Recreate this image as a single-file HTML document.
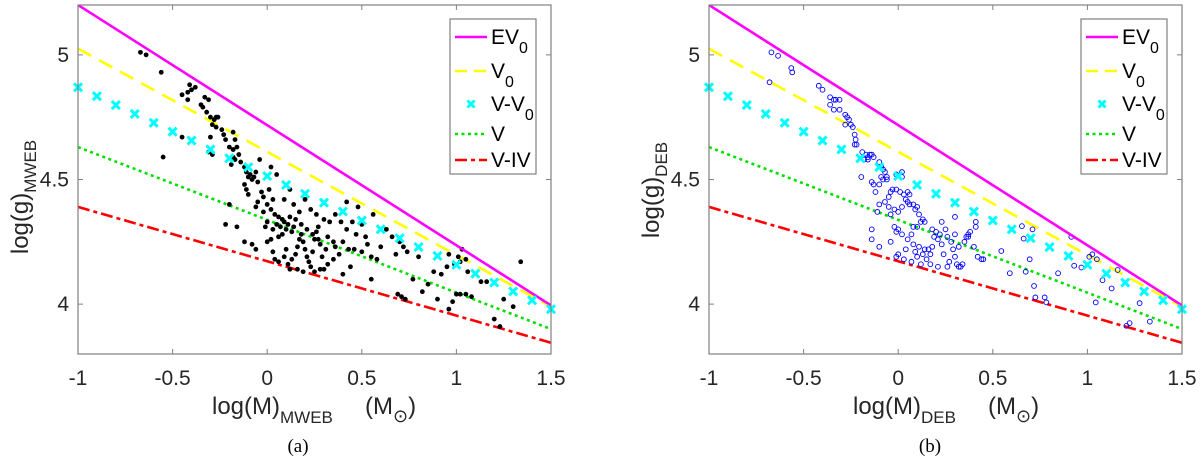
<!DOCTYPE html>
<html><head><meta charset="utf-8"><style>
html,body{margin:0;padding:0;background:#fff;}
svg{display:block;font-family:"Liberation Sans",sans-serif;}
</style></head><body>
<svg id="fig" width="1200" height="464" viewBox="0 0 1200 464"></svg>
<script>
const xTicks=[-1,-0.5,0,0.5,1,1.5];
const xTickLabels=["-1","-0.5","0","0.5","1","1.5"];
const yTicks=[4,4.5,5];
const yTickLabels=["4","4.5","5"];
const lineX=[-1,1.5];
const ev0Y=[5.2,3.995];
const v0Y=[5.025,3.99];
const vV0Y=[4.87,3.98];
const vY=[4.63,3.90];
const vivY=[4.39,3.845];
const crossX=[-1,-0.9,-0.8,-0.7,-0.6,-0.5,-0.4,-0.3,-0.2,-0.1,0,0.1,0.2,0.3,0.4,0.5,0.6,0.7,0.8,0.9,1,1.1,1.2,1.3,1.4,1.5];
const mwebX=[-0.67,-0.64,-0.56,-0.55,-0.45,-0.42,-0.41,-0.40,-0.38,-0.42,-0.35,-0.33,-0.31,-0.34,-0.32,-0.30,-0.28,-0.27,-0.26,-0.29,-0.27,-0.30,-0.24,-0.23,-0.22,-0.18,-0.17,-0.16,-0.20,-0.18,-0.15,-0.18,-0.17,-0.14,-0.19,-0.31,-0.29,-0.45,-0.20,-0.22,
-0.12,-0.11,-0.10,-0.09,-0.08,-0.07,-0.06,-0.05,-0.12,-0.11,-0.10,-0.04,0.02,0.05,-0.03,-0.02,0.01,0.03,-0.05,-0.06,0.0,0.02,-0.02,0.04,0.06,0.08,0.0,-0.01,0.03,0.05,0.07,0.09,0.10,0.11,0.12,0.13,0.14,0.08,0.06,0.02,0.00,-0.06,-0.08,-0.12,-0.16,0.03,0.04,0.06,0.09,0.10,0.11,0.12,0.13,0.15,0.16,0.17,0.18,0.19,0.20,0.21,0.22,0.23,0.24,0.25,0.26,0.27,0.28,0.29,0.30,0.31,0.32,0.33,0.14,0.17,0.20,0.23,0.26,0.30,0.12,0.09,0.15,0.18,0.21,0.24,0.27,0.16,0.19,0.25,0.28,0.32,0.35,0.36,0.38,0.40,0.42,0.45,0.47,0.50,0.52,0.36,0.39,0.43,0.46,0.50,0.53,0.55,0.58,0.60,0.63,0.66,0.68,0.70,0.72,0.74,0.56,0.48,0.42,0.69,0.71,0.73,0.77,0.80,0.55,0.40,0.35,0.44,
0.96,1.01,1.02,1.05,1.03,1.06,0.95,0.99,1.00,1.02,0.98,1.05,1.08,1.13,1.16,1.20,1.25,1.30,1.34,1.23,0.88,0.92,0.82,0.85,0.90,0.96];
const mwebY=[5.01,5.00,4.93,4.59,4.84,4.85,4.88,4.86,4.87,4.82,4.80,4.83,4.82,4.79,4.77,4.75,4.74,4.75,4.75,4.72,4.71,4.67,4.70,4.68,4.66,4.69,4.66,4.63,4.63,4.62,4.60,4.59,4.58,4.57,4.56,4.61,4.60,4.67,4.40,4.32,
4.55,4.53,4.51,4.52,4.50,4.51,4.53,4.49,4.48,4.46,4.44,4.58,4.55,4.52,4.45,4.43,4.46,4.42,4.41,4.39,4.40,4.38,4.37,4.36,4.35,4.34,4.33,4.31,4.30,4.32,4.31,4.33,4.30,4.32,4.35,4.29,4.31,4.28,4.27,4.26,4.25,4.22,4.24,4.25,4.31,4.21,4.18,4.17,4.19,4.22,4.16,4.14,4.18,4.20,4.23,4.26,4.28,4.25,4.22,4.19,4.17,4.15,4.21,4.26,4.29,4.31,4.24,4.19,4.14,4.22,4.27,4.33,4.40,4.37,4.42,4.38,4.36,4.34,4.46,4.42,4.34,4.32,4.30,4.28,4.26,4.14,4.13,4.13,4.14,4.16,4.18,4.23,4.20,4.25,4.30,4.33,4.28,4.32,4.27,4.36,4.33,4.22,4.22,4.21,4.24,4.19,4.18,4.23,4.30,4.27,4.20,4.25,4.23,4.21,4.36,4.39,4.41,4.04,4.03,4.02,4.10,4.19,4.10,4.12,4.25,4.15,
4.20,4.19,4.17,4.18,4.22,4.13,4.15,4.16,4.04,4.04,4.01,4.04,4.03,4.09,4.09,3.94,4.02,3.99,4.17,3.91,4.13,4.12,4.05,4.08,4.02,3.98];
const debX=[-0.67,-0.635,-0.565,-0.56,-0.68,-0.42,-0.40,-0.36,-0.34,-0.33,-0.31,-0.36,-0.34,-0.31,-0.28,-0.27,-0.26,-0.28,-0.25,-0.24,-0.23,-0.225,-0.22,-0.23,-0.195,-0.19,-0.17,-0.16,-0.15,-0.14,-0.16,-0.13,-0.18,-0.10,-0.09,-0.08,-0.07,-0.09,-0.06,-0.08,-0.06,-0.01,0.02,0.02,-0.14,-0.13,-0.12,-0.10,-0.04,-0.03,-0.01,0.01,0.03,0.05,0.06,-0.05,0.04,0.05,-0.10,-0.07,-0.05,-0.02,-0.11,-0.04,0.0,0.02,0.06,0.08,0.09,0.10,0.11,0.12,0.13,0.14,0.10,0.08,-0.14,-0.14,-0.10,
-0.02,-0.01,0.0,0.02,-0.04,0.0,0.04,0.05,0.07,0.08,0.09,0.10,0.11,0.13,0.14,0.15,0.16,0.17,0.18,0.19,0.20,0.21,0.18,0.22,0.25,0.26,0.28,0.29,0.30,0.31,0.32,0.33,0.34,0.30,0.36,0.37,0.38,0.37,0.35,0.32,0.40,0.41,0.41,0.42,0.44,0.45,0.30,0.23,0.26,0.21,0.17,0.12,0.07,0.03,-0.01,0.24,0.27,0.23,
0.545,0.59,0.654,0.663,0.674,0.695,0.71,0.718,0.725,0.774,0.783,0.845,0.915,0.93,0.968,1.01,1.026,1.05,1.044,1.08,1.128,1.16,1.206,1.223,1.276,1.33];
const debY=[5.01,4.996,4.947,4.93,4.89,4.876,4.86,4.83,4.82,4.82,4.82,4.80,4.78,4.78,4.76,4.75,4.74,4.72,4.72,4.71,4.68,4.66,4.64,4.64,4.51,4.61,4.60,4.59,4.60,4.60,4.58,4.59,4.58,4.57,4.55,4.54,4.53,4.51,4.51,4.50,4.50,4.52,4.51,4.53,4.49,4.48,4.45,4.48,4.45,4.46,4.46,4.45,4.44,4.45,4.44,4.43,4.42,4.41,4.40,4.41,4.39,4.38,4.37,4.36,4.37,4.39,4.40,4.40,4.38,4.39,4.36,4.33,4.34,4.33,4.31,4.31,4.30,4.26,4.23,
4.31,4.29,4.30,4.28,4.25,4.20,4.22,4.26,4.28,4.24,4.21,4.19,4.23,4.20,4.22,4.18,4.22,4.20,4.23,4.27,4.29,4.26,4.30,4.28,4.30,4.27,4.25,4.22,4.19,4.16,4.15,4.15,4.16,4.28,4.27,4.28,4.29,4.27,4.25,4.23,4.23,4.33,4.31,4.19,4.18,4.18,4.35,4.33,4.15,4.15,4.16,4.16,4.17,4.18,4.19,4.20,4.17,4.24,
4.213,4.124,4.313,4.263,4.13,4.18,4.30,4.073,4.027,4.027,4.007,4.124,4.27,4.154,4.147,4.19,4.20,4.18,4.007,4.096,4.063,4.137,3.913,3.924,4.004,3.93];

const NS="http://www.w3.org/2000/svg";
const svg=document.getElementById('fig');
function mk(tag,attrs,parent){const e=document.createElementNS(NS,tag);for(const k in attrs)e.setAttribute(k,attrs[k]);(parent||svg).appendChild(e);return e;}

function panel(o){
  const L=o.left,R=o.left+473,T=5,B=354;
  const xs=v=>L+(v+1)/2.5*(R-L);
  const ys=v=>T+(5.2-v)/1.4*(B-T);
  const g=mk('g',{});
  
  
  const clip=mk('clipPath',{id:'clip'+o.left},g);
  mk('rect',{x:L,y:T,width:R-L,height:B-T},clip);
  xTicks.forEach((t,i)=>{
    const x=xs(t);
    const tk=mk('path',{d:`M${x},${B}v-5M${x},${T}v5`,stroke:'#808080','stroke-width':1},g);
    
    
    const tl=mk('text',{x:x,y:B+31,'font-size':21,'text-anchor':'middle',fill:'#262626'},g);
    tl.textContent=xTickLabels[i];
    
    
  });
  yTicks.forEach((t,i)=>{
    const y=ys(t);
    const tk=mk('path',{d:`M${L},${y}h5M${R},${y}h-5`,stroke:'#808080','stroke-width':1},g);
    
    
    const tl=mk('text',{x:L-9,y:y+7,'font-size':21,'text-anchor':'end',fill:'#262626'},g);
    tl.textContent=yTickLabels[i];
    
    
  });
  const cg=mk('g',{'clip-path':`url(#clip${o.left})`},g);
  function line(yv,color,dash,nm){
    const l=mk('line',{x1:xs(lineX[0]),y1:ys(yv[0]),x2:xs(lineX[1]),y2:ys(yv[1]),stroke:color,'stroke-width':2.6,'stroke-dasharray':dash},cg);
    
    
  }
  line(vivY,'#ff0000','12 4 4 4','v-iv-line');
  line(vY,'#00e000','3 3.5','v-line');
  line(v0Y,'#ffff00','15 9','v0-line');
  const sx=o.sx,sy=o.sy;
  for(let i=0;i<sx.length;i++){
    let c;
    if(o.open){c=mk('circle',{cx:xs(sx[i]),cy:ys(sy[i]),r:2.4,fill:'none',stroke:'#0000ff','stroke-width':0.9},cg);}
    else{c=mk('circle',{cx:xs(sx[i]),cy:ys(sy[i]),r:2.4,fill:'#000'},cg);}
    
    
  }
  line(ev0Y,'#ff00ff','','ev0-line');
  crossX.forEach(xv=>{
    const yv=vV0Y[0]+(xv-lineX[0])/(lineX[1]-lineX[0])*(vV0Y[1]-vV0Y[0]);
    const x=xs(xv),y=ys(yv);
    const c=mk('path',{d:`M${x-4},${y-4}L${x+4},${y+4}M${x-4},${y+4}L${x+4},${y-4}`,stroke:'#00ffff','stroke-width':3},g);
    
    
  });
  const box=mk('rect',{x:L,y:T,width:R-L,height:B-T,fill:'none',stroke:'#808080','stroke-width':1.2},g);
  
  
  const lg=mk('g',{},g);
  
  
  const lx=o.left+372;
  mk('rect',{x:lx,y:19,width:86,height:155,fill:'#fff',stroke:'#808080','stroke-width':1.2},lg);
  const ent=[['EV','0','#ff00ff','',37],['V','0','#ffff00','12 7',71],['V-V','0','#00ffff','x',104],['V','','#00e000','3 3.5',134],['V-IV','','#ff0000','12 4 4 4',160]];
  ent.forEach(e=>{
    const eg=mk('g',{},lg);
    
    
    if(e[3]==='x'){const cx=lx+21,cy=e[4];mk('path',{d:`M${cx-3.5},${cy-3.5}L${cx+3.5},${cy+3.5}M${cx-3.5},${cy+3.5}L${cx+3.5},${cy-3.5}`,stroke:e[2],'stroke-width':3},eg);}
    else mk('line',{x1:lx+5,y1:e[4],x2:lx+37,y2:e[4],stroke:e[2],'stroke-width':2.6,'stroke-dasharray':e[3]},eg);
    const t=mk('text',{x:lx+41,y:e[4]+7,'font-size':21,fill:'#000'},eg);
    t.textContent=e[0];
    if(e[1]){const s=mk('tspan',{'font-size':16,dy:9},t);s.textContent=e[1];}
  });
  const yl=mk('text',{transform:`translate(${L-50},${o.ylc}) rotate(-90)`,'font-size':24,'text-anchor':'middle',fill:'#262626'},g);
  
  
  yl.innerHTML=`log(g)<tspan font-size="17" dy="8">${o.sub}</tspan>`;
  const xl=mk('text',{x:o.xlx,y:414,'font-size':24,fill:'#262626'},g);
  
  
  xl.innerHTML=`log(M)<tspan font-size="17" dy="9">${o.sub}</tspan>`;
  const xu=mk('text',{x:o.unitx,y:414,'font-size':24,fill:'#262626'},g);
  
  
  xu.innerHTML=`(M<tspan font-size="18" dy="8">⊙</tspan><tspan dy="-8">)</tspan>`;
  const cap=mk('text',{x:o.capx,y:452,'font-size':19,'text-anchor':'middle','font-family':'Liberation Serif, serif',fill:'#000'},g);
  
  
  cap.textContent=o.cap;
}
panel({left:78,name:'panel-a-mweb',sx:mwebX,sy:mwebY,open:false,sub:'MWEB',ylc:197,xlx:212,unitx:365,capx:298,cap:'(a)'});
panel({left:709,name:'panel-b-deb',sx:debX,sy:debY,open:true,sub:'DEB',ylc:190,xlx:853,unitx:988,capx:930,cap:'(b)'});
</script>
</body></html>
